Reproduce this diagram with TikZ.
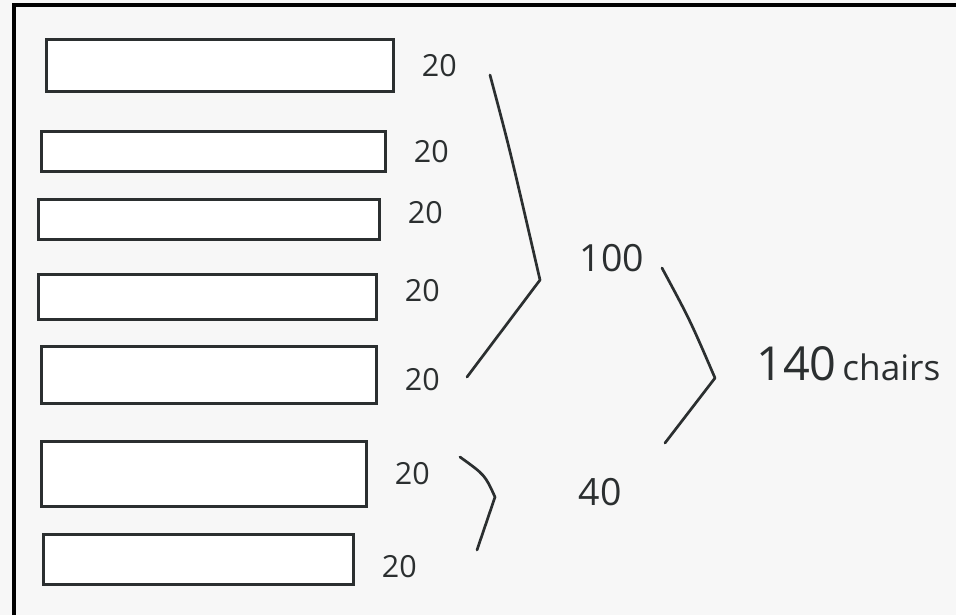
\documentclass[tikz,border=0pt]{standalone}
\usepackage{fontspec}
\setmainfont{Open Sans}
\usepackage{tikz}
\usetikzlibrary{positioning}
\definecolor{paper}{HTML}{F7F7F7}
\definecolor{pencil}{HTML}{2B2F30}
\tikzset{
  table/.style={rectangle, draw=pencil, line width=2.6pt, fill=white, inner sep=0pt, anchor=north west},
  count/.style={font=\fontsize{26}{26}\selectfont, text=pencil, inner sep=0pt},
  total/.style={font=\fontsize{32}{32}\selectfont, text=pencil, inner sep=0pt},
  brace/.style={draw=pencil, line width=2.3pt, line cap=round, line join=round}
}

\begin{document}
\begin{tikzpicture}[x=0.03cm, y=-0.03cm]
  \fill[paper] (0,0) rectangle (956,615);
  \useasboundingbox (0,0) rectangle (956,615);
  \draw[line width=3pt] (14,615) |- (956,5);

  % the seven tables
  \node[table, minimum width=10.41cm, minimum height=1.56cm] (t1) at (45,38) {};
  \node[table, minimum width=10.32cm, minimum height=1.2cm] (t2) at (40,130) {};
  \node[table, minimum width=10.23cm, minimum height=1.2cm] (t3) at (37,198) {};
  \node[table, minimum width=10.14cm, minimum height=1.35cm] (t4) at (37,273) {};
  \node[table, minimum width=10.05cm, minimum height=1.71cm] (t5) at (40,345) {};
  \node[table, minimum width=9.75cm, minimum height=1.95cm] (t6) at (40,440) {};
  \node[table, minimum width=9.3cm, minimum height=1.5cm] (t7) at (42,533) {};

  \node[count, right=0.8cm of t1] (c1) {20};
  \node[count, right=0.8cm of t2] (c2) {20};
  \node[count, right=0.8cm of t3, yshift=0.2cm] (c3) {20};
  \node[count, right=0.8cm of t4, yshift=0.2cm] (c4) {20};
  \node[count, right=0.8cm of t5, yshift=-0.15cm] (c5) {20};
  \node[count, right=0.8cm of t6] (c6) {20};
  \node[count, right=0.8cm of t7, yshift=-0.2cm] (c7) {20};

  % sums
  \node[total] (s100) at (612,258) {100};
  \node[total] (s40) at (600,492) {40};
  \node[total, anchor=base west, font=\fontsize{30}{30}\selectfont] (s140) at (756,380)
    {{\fontsize{40}{40}\selectfont 140}\,chairs};

  % braces
  \coordinate (b1top) at (490,75);
  \coordinate (b1tip) at (540,280);
  \coordinate (b1bot) at (467,377);
  \coordinate (b2top) at (460,457);
  \coordinate (b2tip) at (495,497);
  \coordinate (b2bot) at (477,550);
  \coordinate (b3top) at (662,268);
  \coordinate (b3tip) at (715,378);
  \coordinate (b3bot) at (665,443);
  \draw[brace] (b1top) .. controls (510,150) .. (b1tip) -- (b1bot);
  \draw[brace] (b2top) .. controls (485,475) .. (b2tip) -- (b2bot);
  \draw[brace] (b3top) .. controls (690,320) .. (b3tip) -- (b3bot);
\end{tikzpicture}
\end{document}
